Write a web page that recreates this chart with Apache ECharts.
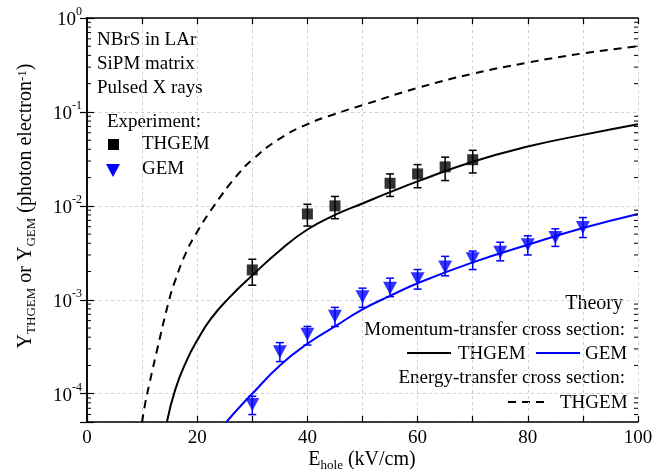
<!DOCTYPE html>
<html>
<head>
<meta charset="utf-8">
<script src="https://cdn.jsdelivr.net/npm/echarts@6/dist/echarts.min.js"></script>
<style>
html, body { margin: 0; padding: 0; background: #fff; }
#main { width: 672px; height: 473px; }
</style>
</head>
<body>
<div id="main"></div>
<script>
// tick labels
var xLabelValues = [0, 20, 40, 60, 80, 100];
var yDecades = [-4, -3, -2, -1, 0];

// experiment: THGEM (black squares)
var thgemX = [30, 40, 45, 55, 60, 65, 70];
var thgemY = [2.08e-3, 8.2e-3, 1.0e-2, 1.74e-2, 2.19e-2, 2.6e-2, 3.1e-2];
var thgemLow = [1.43e-3, 6.1e-3, 7.3e-3, 1.26e-2, 1.56e-2, 1.86e-2, 2.24e-2];
var thgemHigh = [2.7e-3, 1.04e-2, 1.26e-2, 2.19e-2, 2.75e-2, 3.3e-2, 3.9e-2];

// experiment: GEM (blue triangles)
var gemX = [30, 35, 40, 45, 50, 55, 60, 65, 70, 75, 80, 85, 90];
var gemY = [7.7e-5, 2.8e-4, 4.3e-4, 6.7e-4, 1.08e-3, 1.33e-3, 1.67e-3, 2.24e-3, 2.73e-3, 3.2e-3, 3.85e-3, 4.6e-3, 5.9e-3];
var gemLow = [6.0e-5, 2.2e-4, 3.3e-4, 5.2e-4, 8.3e-4, 1.08e-3, 1.3e-3, 1.8e-3, 2.1e-3, 2.6e-3, 3.0e-3, 3.7e-3, 4.6e-3];
var gemHigh = [9.4e-5, 3.5e-4, 5.2e-4, 8.3e-4, 1.33e-3, 1.7e-3, 2.1e-3, 2.9e-3, 3.3e-3, 4.1e-3, 4.8e-3, 5.7e-3, 7.5e-3];

// theory: momentum-transfer, THGEM
var momThgemX = [14.5, 16, 18, 20, 22.5, 26, 30, 35, 40, 45, 50, 55, 60, 70, 80, 90, 100];
var momThgemY = [5e-5, 1.1e-4, 2.2e-4, 3.7e-4, 6.3e-4, 1.08e-3, 1.82e-3, 3.35e-3, 5.6e-3, 8.0e-3, 1.06e-2, 1.4e-2, 1.82e-2, 2.95e-2, 4.28e-2, 5.7e-2, 7.4e-2];

// theory: momentum-transfer, GEM
var momGemX = [25.3, 27.5, 30, 35, 40, 45, 50, 55, 60, 70, 80, 90, 100];
var momGemY = [5e-5, 7.0e-5, 1.0e-4, 2.0e-4, 3.4e-4, 5.2e-4, 7.9e-4, 1.1e-3, 1.5e-3, 2.5e-3, 3.85e-3, 5.8e-3, 8.2e-3];

// theory: energy-transfer, THGEM
var enThgemX = [10, 10.6, 11.8, 12.7, 14.8, 16, 18, 20, 23.3, 26.9, 30, 35, 40, 45, 50, 60, 70, 80, 90, 100];
var enThgemY = [5e-5, 8.1e-5, 1.7e-4, 2.9e-4, 9.4e-4, 1.6e-3, 3.2e-3, 5.3e-3, 1.05e-2, 2.0e-2, 3.1e-2, 5.2e-2, 7.4e-2, 9.5e-2, 0.118, 0.18, 0.255, 0.335, 0.42, 0.50];

var FONT = 'Liberation Serif';
var yMin = 5e-5, yMax = 1;

function pairs(xs, ys) { return xs.map(function (x, i) { return [x, ys[i]]; }); }
function bars(xs, lo, hi) { return xs.map(function (x, i) { return [x, lo[i], hi[i]]; }); }

// minor log ticks 2..9 x 10^k inside the range
var minorTickVals = [];
yDecades.concat([-5]).forEach(function (k) {
  for (var m = 2; m <= 9; m++) {
    var v = m * Math.pow(10, k);
    if (v > yMin * 1.0001 && v < yMax) minorTickVals.push([0, v]);
  }
});

function errorBarItem(color) {
  return function (params, api) {
    var x = api.value(0);
    var lo = api.coord([x, api.value(1)]);
    var hi = api.coord([x, api.value(2)]);
    var w = 4;
    var st = { stroke: color, lineWidth: 1.5 };
    return {
      type: 'group',
      children: [
        { type: 'line', shape: { x1: lo[0], y1: lo[1], x2: hi[0], y2: hi[1] }, style: st },
        { type: 'line', shape: { x1: lo[0] - w, y1: lo[1], x2: lo[0] + w, y2: lo[1] }, style: st },
        { type: 'line', shape: { x1: hi[0] - w, y1: hi[1], x2: hi[0] + w, y2: hi[1] }, style: st }
      ]
    };
  };
}

function decadeLabel(v) {
  var e = Math.log(v) / Math.LN10;
  var r = Math.round(e);
  if (Math.abs(e - r) > 1e-6 || yDecades.indexOf(r) < 0) return '';
  return '{b|10}{s|' + r + '}';
}

var axisLineStyle = { color: '#000', width: 1.5 };
var tickLineStyle = { color: '#000', width: 1.2 };
var gridStyle = { color: '#d0d0d0', type: [3, 3], width: 1 };

var myChart = echarts.init(document.getElementById('main'));
myChart.setOption({
  animation: false,
  backgroundColor: '#fff',
  grid: { left: 87, right: 34, top: 18, bottom: 51 },
  xAxis: [{
    type: 'value', min: 0, max: 100, interval: 10, position: 'bottom',
    axisLine: { lineStyle: axisLineStyle },
    axisTick: { inside: true, length: 6, lineStyle: tickLineStyle },
    axisLabel: {
      color: '#000', fontFamily: FONT, fontSize: 19, margin: 7,
      formatter: function (v) { return xLabelValues.indexOf(v) >= 0 ? String(v) : ''; }
    },
    splitLine: { show: true, lineStyle: gridStyle }
  }, {
    type: 'value', min: 0, max: 100, interval: 10, position: 'top',
    axisLine: { lineStyle: axisLineStyle },
    axisTick: { inside: true, length: 6, lineStyle: tickLineStyle },
    axisLabel: { show: false },
    splitLine: { show: false }
  }],
  yAxis: [{
    type: 'log', logBase: 10, min: yMin, max: yMax, position: 'left',
    axisLine: { lineStyle: axisLineStyle },
    axisTick: { inside: true, length: 7, lineStyle: tickLineStyle },
    axisLabel: {
      color: '#000', fontFamily: FONT, margin: 5,
      formatter: decadeLabel,
      rich: {
        b: { fontFamily: FONT, fontSize: 19, color: '#000', lineHeight: 24, verticalAlign: 'bottom' },
        s: { fontFamily: FONT, fontSize: 12, color: '#000', lineHeight: 12, verticalAlign: 'top' }
      }
    },
    splitLine: { show: true, lineStyle: gridStyle }
  }, {
    type: 'log', logBase: 10, min: yMin, max: yMax, position: 'right',
    axisLine: { lineStyle: axisLineStyle },
    axisTick: { inside: true, length: 7, lineStyle: tickLineStyle },
    axisLabel: { show: false },
    splitLine: { show: false }
  }],
  series: [{
    type: 'custom', name: 'minorTicks', silent: true, clip: false, z: 5,
    data: minorTickVals, encode: { x: 0, y: 1 },
    renderItem: function (params, api) {
      var p = api.coord([0, api.value(1)]);
      var cs = params.coordSys;
      var st = { stroke: '#000', lineWidth: 1 };
      return {
        type: 'group', children: [
          { type: 'line', shape: { x1: cs.x, y1: p[1], x2: cs.x + 4, y2: p[1] }, style: st },
          { type: 'line', shape: { x1: cs.x + cs.width - 4, y1: p[1], x2: cs.x + cs.width, y2: p[1] }, style: st }
        ]
      };
    }
  }, {
    type: 'line', name: 'Energy-transfer THGEM', data: pairs(enThgemX, enThgemY),
    showSymbol: false, smooth: 0.5,
    lineStyle: { color: '#000', width: 2, type: [8, 6] }
  }, {
    type: 'line', name: 'Momentum-transfer THGEM', data: pairs(momThgemX, momThgemY),
    showSymbol: false, smooth: 0.5,
    lineStyle: { color: '#000', width: 2 }
  }, {
    type: 'line', name: 'Momentum-transfer GEM', data: pairs(momGemX, momGemY),
    showSymbol: false, smooth: 0.5,
    lineStyle: { color: '#0000ff', width: 2 }
  }, {
    type: 'custom', name: 'THGEM err', data: bars(thgemX, thgemLow, thgemHigh),
    encode: { x: 0, y: [1, 2] }, renderItem: errorBarItem('#000'), z: 3
  }, {
    type: 'custom', name: 'GEM err', data: bars(gemX, gemLow, gemHigh),
    encode: { x: 0, y: [1, 2] }, renderItem: errorBarItem('#0000ff'), z: 3
  }, {
    type: 'scatter', name: 'THGEM', data: pairs(thgemX, thgemY),
    symbol: 'rect', symbolSize: 11, itemStyle: { color: '#000' }, z: 4
  }, {
    type: 'scatter', name: 'GEM', data: pairs(gemX, gemY),
    symbol: 'triangle', symbolRotate: 180, symbolSize: [14, 13], itemStyle: { color: '#0000ff' }, z: 4
  }],
  graphic: [
    // y axis title
    {
      type: 'text', x: 27, y: 206, rotation: Math.PI / 2,
      style: {
        text: '{b|Y}{s|THGEM}{b| or Y}{s|GEM}{b| (photon electron}{p|-1}{b|)}',
        align: 'center', verticalAlign: 'middle',
        rich: {
          b: { fontFamily: FONT, fontSize: 20, fill: '#000', lineHeight: 22, verticalAlign: 'top' },
          s: { fontFamily: FONT, fontSize: 13, fill: '#000', lineHeight: 13, padding: [12, 0, 0, 0], verticalAlign: 'bottom' },
          p: { fontFamily: FONT, fontSize: 13, fill: '#000', lineHeight: 13, verticalAlign: 'top' }
        }
      }
    },
    // x axis title
    {
      type: 'text', x: 362, y: 461,
      style: {
        text: '{b|E}{s|hole}{b| (kV/cm)}',
        align: 'center', verticalAlign: 'middle',
        rich: {
          b: { fontFamily: FONT, fontSize: 20, fill: '#000', lineHeight: 22, verticalAlign: 'top' },
          s: { fontFamily: FONT, fontSize: 13, fill: '#000', lineHeight: 13, padding: [12, 0, 0, 0], verticalAlign: 'bottom' }
        }
      }
    },
    // top-left notes
    { type: 'text', x: 97, y: 40, style: { text: 'NBrS in LAr', font: '19px "Liberation Serif"', fill: '#000', verticalAlign: 'middle' } },
    { type: 'text', x: 97, y: 64, style: { text: 'SiPM matrix', font: '19px "Liberation Serif"', fill: '#000', verticalAlign: 'middle' } },
    { type: 'text', x: 97, y: 88, style: { text: 'Pulsed X rays', font: '19px "Liberation Serif"', fill: '#000', verticalAlign: 'middle' } },
    { type: 'text', x: 107, y: 122, style: { text: 'Experiment:', font: '19px "Liberation Serif"', fill: '#000', verticalAlign: 'middle' } },
    { type: 'rect', shape: { x: 108, y: 139, width: 11, height: 11 }, style: { fill: '#000' } },
    { type: 'text', x: 142, y: 144, style: { text: 'THGEM', font: '19px "Liberation Serif"', fill: '#000', verticalAlign: 'middle' } },
    { type: 'polygon', shape: { points: [[106, 164], [120, 164], [113, 177]] }, style: { fill: '#0000ff' } },
    { type: 'text', x: 142, y: 169, style: { text: 'GEM', font: '19px "Liberation Serif"', fill: '#000', verticalAlign: 'middle' } },
    // theory legend
    { type: 'text', x: 623, y: 304, style: { text: 'Theory', font: '20px "Liberation Serif"', fill: '#000', align: 'right', verticalAlign: 'middle' } },
    { type: 'text', x: 625, y: 330, style: { text: 'Momentum-transfer cross section:', font: '19px "Liberation Serif"', fill: '#000', align: 'right', verticalAlign: 'middle' } },
    { type: 'line', shape: { x1: 407, y1: 353, x2: 451, y2: 353 }, style: { stroke: '#000', lineWidth: 2 } },
    { type: 'text', x: 458, y: 354, style: { text: 'THGEM', font: '19px "Liberation Serif"', fill: '#000', verticalAlign: 'middle' } },
    { type: 'line', shape: { x1: 536, y1: 353, x2: 580, y2: 353 }, style: { stroke: '#0000ff', lineWidth: 2 } },
    { type: 'text', x: 585, y: 354, style: { text: 'GEM', font: '19px "Liberation Serif"', fill: '#000', verticalAlign: 'middle' } },
    { type: 'text', x: 625, y: 378, style: { text: 'Energy-transfer cross section:', font: '19px "Liberation Serif"', fill: '#000', align: 'right', verticalAlign: 'middle' } },
    { type: 'line', shape: { x1: 508, y1: 402, x2: 550, y2: 402 }, style: { stroke: '#000', lineWidth: 2, lineDash: [8, 6] } },
    { type: 'text', x: 560, y: 403, style: { text: 'THGEM', font: '19px "Liberation Serif"', fill: '#000', verticalAlign: 'middle' } }
  ]
});
</script>
</body>
</html>
